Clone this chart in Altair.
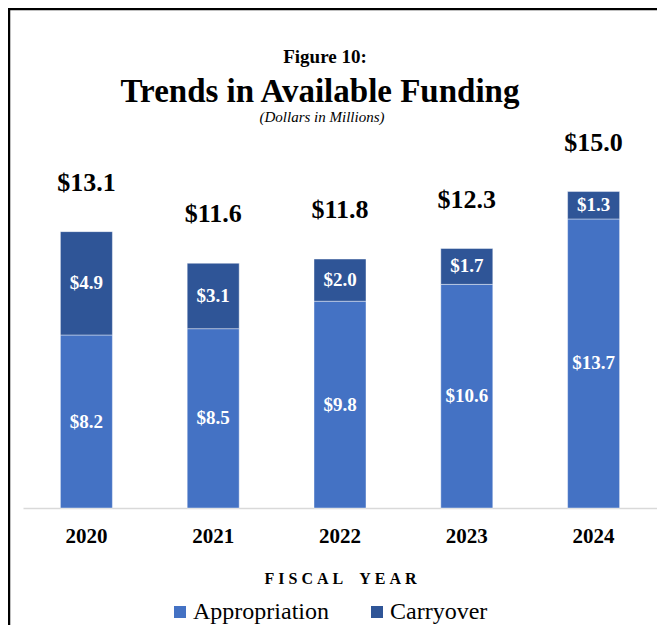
import altair as alt
import pandas as pd

years = ["2020", "2021", "2022", "2023", "2024"]
appropriation = [8.2, 8.5, 9.8, 10.6, 13.7]
carryover = [4.9, 3.1, 2.0, 1.7, 1.3]
totals = [13.1, 11.6, 11.8, 12.3, 15.0]
series = ["Appropriation", "Carryover"]
colors = ["#4472C4", "#2F5597"]

FONT = "Liberation Serif"
W, H = 634, 500
NB = "\u00a0"
axis_title = NB.join("FISCAL") + NB * 4 + NB.join("YEAR")

rows = []
for yr, a, c in zip(years, appropriation, carryover):
    rows.append({"year": yr, "series": series[0], "start": 0.0, "end": a,
                 "mid": a / 2, "label": f"${a:.1f}"})
    rows.append({"year": yr, "series": series[1], "start": a, "end": a + c,
                 "mid": a + c / 2, "label": f"${c:.1f}"})
seg = pd.DataFrame(rows)
tot = pd.DataFrame({"year": years, "total": totals,
                    "label": [f"${t:.1f}" for t in totals]})

xenc = alt.X("year:N", sort=years,
             scale=alt.Scale(paddingInner=0.59, paddingOuter=0.295),
             axis=alt.Axis(title=axis_title, labelAngle=0, grid=False,
                           labelFont=FONT, labelFontSize=21, labelFontWeight="bold",
                           labelColor="#000000", labelPadding=17, ticks=False,
                           domainColor="#d9d9d9", domainWidth=1.5,
                           titleFont=FONT, titleFontSize=16, titleFontWeight="bold",
                           titleColor="#000000", titleY=70, titleBaseline="middle"))
yscale = alt.Scale(domain=[0, 23.7])

bars = alt.Chart(seg).mark_bar(stroke="#ffffff", strokeWidth=0.6, strokeOpacity=0.7).encode(
    x=xenc,
    y=alt.Y("start:Q", scale=yscale, axis=None),
    y2="end:Q",
    color=alt.Color("series:N", scale=alt.Scale(domain=series, range=colors),
                    legend=alt.Legend(title=None, orient="none", legendX=145, legendY=592,
                                      direction="horizontal", symbolType="square",
                                      symbolSize=144, symbolStrokeWidth=0,
                                      labelFont=FONT, labelFontSize=24,
                                      labelColor="#000000", labelOffset=1,
                                      columnPadding=36)),
)

seg_text = alt.Chart(seg).mark_text(font=FONT, fontSize=19, fontWeight="bold",
                                    color="#ffffff", baseline="middle").encode(
    x=alt.X("year:N", sort=years), y=alt.Y("mid:Q", scale=yscale), text="label:N")

tot_text = alt.Chart(tot).mark_text(font=FONT, fontSize=26, fontWeight="bold",
                                    color="#000000", baseline="middle", dy=-49).encode(
    x=alt.X("year:N", sort=years), y=alt.Y("total:Q", scale=yscale), text="label:N")

one = pd.DataFrame({"k": [0]})
frame_left = alt.Chart(one).mark_rule(color="#000000", strokeWidth=2.5).encode(
    x=alt.value(-14), x2=alt.value(-14), y=alt.value(0), y2=alt.value(H + 130))
frame_top = alt.Chart(one).mark_rule(color="#000000", strokeWidth=2.5).encode(
    x=alt.value(-15), x2=alt.value(W + 1), y=alt.value(1), y2=alt.value(1))

t1 = alt.Chart(one).mark_text(text="Figure 10:", font=FONT, fontSize=19,
                              fontWeight="bold", color="#000000", baseline="middle").encode(
    x=alt.value(302), y=alt.value(49))
t2 = alt.Chart(one).mark_text(text="Trends in Available Funding", font=FONT, fontSize=33,
                              fontWeight="bold", color="#000000", baseline="middle").encode(
    x=alt.value(297), y=alt.value(84))
t3 = alt.Chart(one).mark_text(text="(Dollars in Millions)", font=FONT, fontSize=15,
                              fontStyle="italic", color="#000000", baseline="middle").encode(
    x=alt.value(299), y=alt.value(109))

chart = alt.layer(bars, seg_text, tot_text, frame_left, frame_top, t1, t2, t3).properties(
    width=W, height=H,
    background="#ffffff",
    autosize=alt.AutoSizeParams(type="none"),
    padding={"left": 15, "top": 0, "right": 0, "bottom": 117},
).configure_view(strokeWidth=0, stroke="transparent")

chart.save("out.html", embed_options={"renderer": "svg", "actions": False})
